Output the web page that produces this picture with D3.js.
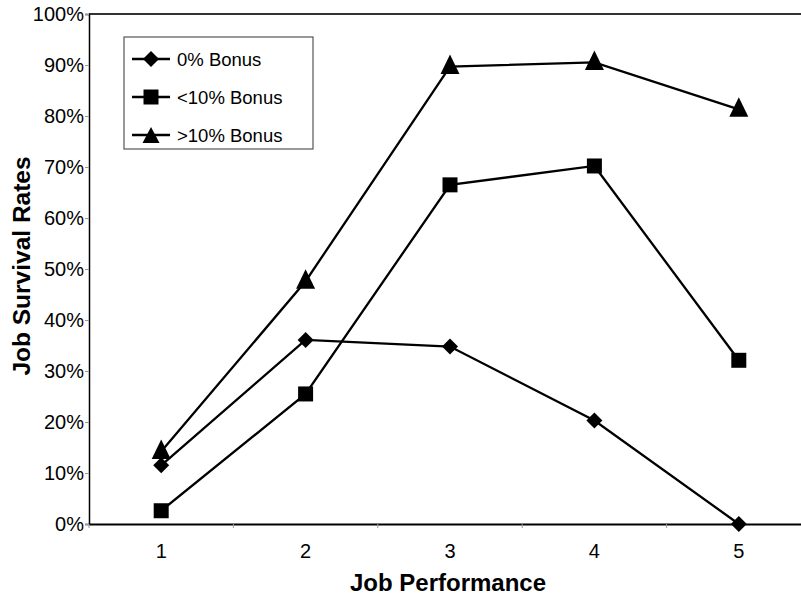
<!DOCTYPE html>
<html>
<head>
<meta charset="utf-8">
<script src="https://cdn.jsdelivr.net/npm/d3@7"></script>
<style>
  body { margin: 0; background: #fff; }
  text { font-family: "Liberation Sans", Arial, sans-serif; fill: #000; }
</style>
</head>
<body>
<div id="chart-area"></div>
<script>
// job performance categories and survival rates (%)
var categories = [1, 2, 3, 4, 5];
var noBonus   = [11.5, 36.1, 34.8, 20.3, 0];
var lowBonus  = [2.6, 25.5, 66.5, 70.2, 32.1];
var highBonus = [14.2, 47.6, 89.7, 90.5, 81.3];
var yTicks = [0, 10, 20, 30, 40, 50, 60, 70, 80, 90, 100];

var series = [
  {name: "0% Bonus", values: noBonus, symbol: "diamond"},
  {name: "<10% Bonus", values: lowBonus, symbol: "square"},
  {name: ">10% Bonus", values: highBonus, symbol: "triangle"}
];

var margin = {left: 89, right: -10, top: 14, bottom: 72};
var width = 801 - margin.left - margin.right;
var height = 596 - margin.top - margin.bottom;

var svg = d3.select("#chart-area")
  .append("svg")
  .attr("width", 801)
  .attr("height", 596);

var g = svg.append("g")
  .attr("transform", "translate(" + margin.left + "," + margin.top + ")");

var x = d3.scaleBand().domain(categories).range([0, width]);
var y = d3.scaleLinear().domain([0, 100]).range([height, 0]);

// frame top line
g.append("line")
  .attr("x1", 0).attr("x2", width)
  .attr("y1", 0).attr("y2", 0)
  .attr("stroke", "#333").attr("stroke-width", 2);

// y axis
var yAxis = g.append("g")
  .call(d3.axisLeft(y).tickValues(yTicks).tickSize(4).tickFormat(d => d + "%"));
yAxis.select(".domain").attr("stroke", "#000").attr("stroke-width", 1.5);
yAxis.selectAll(".tick line").attr("stroke", "#999");
yAxis.selectAll(".tick text")
  .attr("x", -5)
  .attr("font-size", "20px")
  .attr("font-family", "Liberation Sans, Arial, sans-serif");

// x axis, ticks on band edges
var xAxis = g.append("g")
  .attr("transform", "translate(0," + height + ")")
  .call(d3.axisBottom(x).tickSize(0));
xAxis.select(".domain").attr("stroke", "#000").attr("stroke-width", 2);
xAxis.selectAll(".tick text")
  .attr("y", 20)
  .attr("font-size", "20px")
  .attr("font-family", "Liberation Sans, Arial, sans-serif");

g.append("g").selectAll("line")
  .data(categories)
  .enter().append("line")
  .attr("x1", d => x(d)).attr("x2", d => x(d))
  .attr("y1", height).attr("y2", height + 4)
  .attr("stroke", "#999");

// axis labels
g.append("text")
  .attr("x", 448 - margin.left)
  .attr("y", height + 67)
  .attr("text-anchor", "middle")
  .attr("font-size", "24px")
  .attr("font-weight", "bold")
  .text("Job Performance");

g.append("text")
  .attr("transform", "rotate(-90)")
  .attr("x", -(height / 2) + 3)
  .attr("y", -59)
  .attr("text-anchor", "middle")
  .attr("font-size", "24.5px")
  .attr("font-weight", "bold")
  .text("Job Survival Rates");

function symbolPath(kind) {
  if (kind === "diamond") return "M0,-8L8,0L0,8L-8,0Z";
  if (kind === "square") return "M-7.5,-7.5H7.5V7.5H-7.5Z";
  return "M0,-12L9.5,7.5H-9.5Z";
}

var line = d3.line()
  .x((d, i) => x(categories[i]) + x.bandwidth() / 2)
  .y(d => y(d));

series.forEach(function(s) {
  g.append("path")
    .attr("d", line(s.values))
    .attr("fill", "none")
    .attr("stroke", "#000")
    .attr("stroke-width", 2.3);
});

series.forEach(function(s) {
  g.append("g").selectAll("path")
    .data(s.values)
    .enter().append("path")
    .attr("transform", (d, i) => "translate(" + (x(categories[i]) + x.bandwidth() / 2) + "," + y(d) + ")")
    .attr("d", symbolPath(s.symbol))
    .attr("fill", "#000");
});

// legend
var legend = svg.append("g").attr("transform", "translate(124,37)");
legend.append("rect")
  .attr("width", 189).attr("height", 112)
  .attr("fill", "#fff")
  .attr("stroke", "#555").attr("stroke-width", 1.2);

var item = legend.selectAll(".item")
  .data(series)
  .enter().append("g")
  .attr("transform", (d, i) => "translate(0," + (22 + i * 38) + ")");

item.append("line")
  .attr("x1", 8).attr("x2", 46)
  .attr("stroke", "#000").attr("stroke-width", 2.3);
item.append("path")
  .attr("transform", d => "translate(27," + (d.symbol === "triangle" ? 2 : 0) + ")")
  .attr("d", d => d.symbol === "triangle" ? "M0,-10L8.5,6H-8.5Z" : symbolPath(d.symbol))
  .attr("fill", "#000");
item.append("text")
  .attr("x", 53)
  .attr("y", 6.5)
  .attr("font-size", "18.5px")
  .text(d => d.name);
</script>
</body>
</html>
